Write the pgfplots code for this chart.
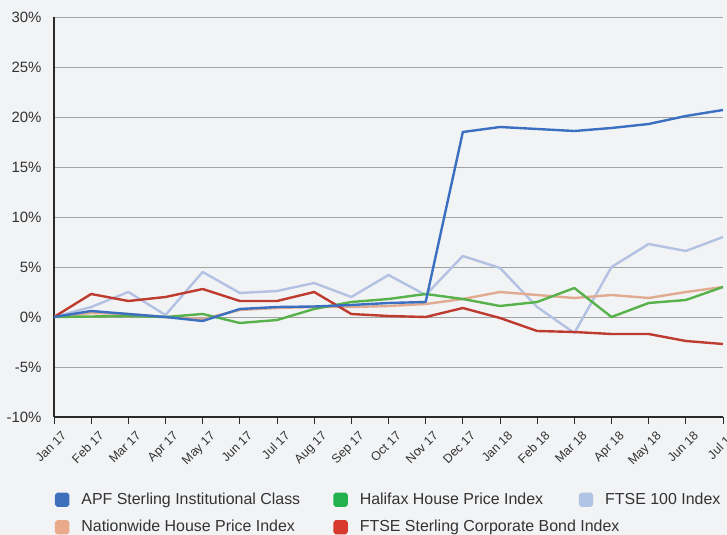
\documentclass[border=0pt]{standalone}
\usepackage{pgfplots}
\pgfplotsset{compat=1.18}
\usepackage{fontspec}
\setmainfont{Liberation Sans}
\definecolor{bg}{HTML}{F2F3F5}
\definecolor{txt}{HTML}{333333}
\definecolor{gridc}{HTML}{A3A3A3}
\definecolor{axc}{HTML}{2A2A2A}
\definecolor{apf}{HTML}{3B6FC1}
\definecolor{hal}{HTML}{58B24C}
\definecolor{ftse}{HTML}{B3C2E3}
\definecolor{nat}{HTML}{E0AB90}
\definecolor{cb}{HTML}{BE3B2F}
\definecolor{apfL}{HTML}{3E70BC}
\definecolor{halL}{HTML}{22B14C}
\definecolor{ftseL}{HTML}{B0C4E4}
\definecolor{natL}{HTML}{E9A98A}
\definecolor{cbL}{HTML}{D83A2E}
\begin{document}
\begin{tikzpicture}
\fill[bg] (0bp,0bp) rectangle (727bp,535bp);
\begin{axis}[
  at={(54bp,118bp)}, anchor=south west,
  scale only axis, width=669bp, height=400bp,
  xmin=0, xmax=18, ymin=-10, ymax=30,
  axis x line=bottom, axis y line=left,
  axis line style={-, draw=axc, line width=1.6bp},
  xtick={0,...,18},
  xticklabels={Jan 17,Feb 17,Mar 17,Apr 17,May 17,Jun 17,Jul 17,Aug 17,Sep 17,Oct 17,Nov 17,Dec 17,Jan 18,Feb 18,Mar 18,Apr 18,May 18,Jun 18,Jul 18},
  ytick={-10,-5,...,30},
  yticklabel={\pgfmathprintnumber{\tick}\%},
  /pgf/number format/assume math mode=true,
  tick align=outside,
  major tick length=7bp,
  xtick style={draw=axc, line width=1bp},
  ytick style={draw=none},
  ymajorgrids, grid style={gridc, line width=0.9bp},
  yticklabel style={font=\fontsize{15}{18}\selectfont, text=txt, xshift=-2bp},
  xticklabel style={font=\fontsize{12.5}{15}\selectfont, text=txt, rotate=45, anchor=north east, xshift=4bp, yshift=-6bp},
  every axis plot/.append style={line width=2.4bp, line join=round},
  legend columns=3,
  legend style={draw=none, fill=none, inner sep=0pt, outer sep=0pt,
    at={(axis description cs:0.0015,-0.1875)}, anchor=north west,
    font=\fontsize{16}{19}\selectfont, text=txt, row sep=12bp,
    nodes={inner sep=0pt, anchor=west, text height=12bp, text depth=3.5bp},
    /tikz/every odd column/.append style={column sep=12bp},
    /tikz/every even column/.append style={column sep=0bp}},
]
\addplot[ftse, forget plot] coordinates {(0,0) (1,1.0) (2,2.5) (3,0.2) (4,4.5) (5,2.4) (6,2.6) (7,3.4) (8,2.0) (9,4.2) (10,2.2) (11,6.1) (12,4.9) (13,1.0) (14,-1.6) (15,5.0) (16,7.3) (17,6.6) (18,8.0)};
\addplot[nat, forget plot] coordinates {(0,0) (1,0.4) (2,0.3) (3,0.0) (4,-0.2) (5,0.7) (6,0.9) (7,1.0) (8,1.0) (9,1.1) (10,1.3) (11,1.8) (12,2.5) (13,2.2) (14,1.9) (15,2.2) (16,1.9) (17,2.5) (18,3.0)};
\addplot[hal, forget plot] coordinates {(0,0) (1,0.05) (2,0.1) (3,0.0) (4,0.3) (5,-0.6) (6,-0.3) (7,0.8) (8,1.5) (9,1.8) (10,2.3) (11,1.8) (12,1.1) (13,1.5) (14,2.9) (15,0.0) (16,1.4) (17,1.7) (18,3.0)};
\addplot[cb, forget plot] coordinates {(0,0) (1,2.3) (2,1.6) (3,2.0) (4,2.8) (5,1.6) (6,1.6) (7,2.5) (8,0.3) (9,0.1) (10,0.0) (11,0.9) (12,-0.1) (13,-1.4) (14,-1.5) (15,-1.7) (16,-1.7) (17,-2.4) (18,-2.7)};
\addplot[apf, forget plot] coordinates {(0,0) (1,0.6) (2,0.3) (3,0.0) (4,-0.4) (5,0.8) (6,1.0) (7,1.05) (8,1.2) (9,1.4) (10,1.5) (11,18.5) (12,19.0) (13,18.8) (14,18.6) (15,18.9) (16,19.3) (17,20.1) (18,20.7)};
\addlegendimage{legend image code/.code={\fill[apfL, rounded corners=1.5bp] (0bp,-6bp) rectangle (12bp,6bp);}}
\addlegendentry{\makebox[252bp][l]{APF Sterling Institutional Class}}
\addlegendimage{legend image code/.code={\fill[halL, rounded corners=1.5bp] (0bp,-6bp) rectangle (12bp,6bp);}}
\addlegendentry{\makebox[219bp][l]{Halifax House Price Index}}
\addlegendimage{legend image code/.code={\fill[ftseL, rounded corners=1.5bp] (0bp,-6bp) rectangle (12bp,6bp);}}
\addlegendentry{FTSE 100 Index}
\addlegendimage{legend image code/.code={\fill[natL, rounded corners=1.5bp] (0bp,-6bp) rectangle (12bp,6bp);}}
\addlegendentry{\makebox[252bp][l]{Nationwide House Price Index}}
\addlegendimage{legend image code/.code={\fill[cbL, rounded corners=1.5bp] (0bp,-6bp) rectangle (12bp,6bp);}}
\addlegendentry{\makebox[219bp][l]{FTSE Sterling Corporate Bond Index}}
\end{axis}
\pgfresetboundingbox
\path[use as bounding box] (0bp,0bp) rectangle (727bp,535bp);
\end{tikzpicture}
\end{document}
